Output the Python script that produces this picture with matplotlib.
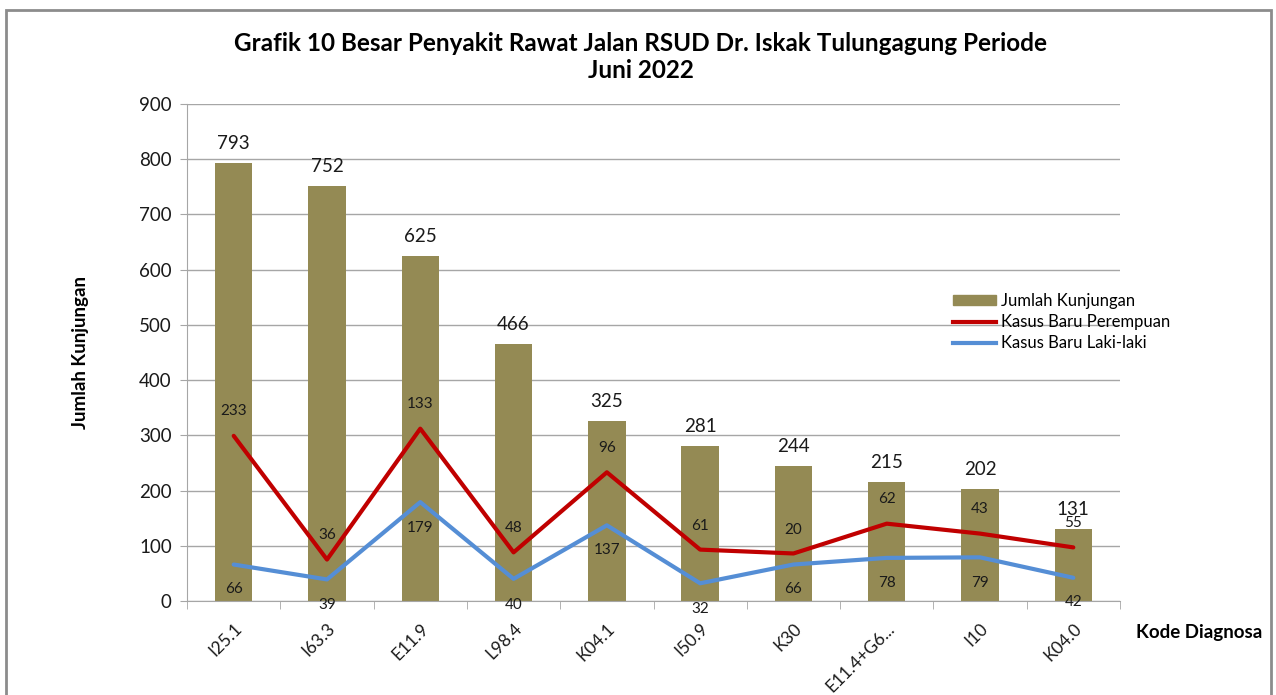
import matplotlib.pyplot as plt
import matplotlib.patches as mpatches
import numpy as np

plt.rcParams['font.family'] = ['Lato', 'DejaVu Sans']

codes = ["I25.1", "I63.3", "E11.9", "L98.4", "K04.1", "I50.9", "K30", "E11.4+G6...", "I10", "K04.0"]
kunjungan = [793, 752, 625, 466, 325, 281, 244, 215, 202, 131]
laki = [66, 39, 179, 40, 137, 32, 66, 78, 79, 42]
perempuan = [233, 36, 133, 48, 96, 61, 20, 62, 43, 55]
# label heights as placed in the original (value units)
perempuan_label_y = [344, 120, 356, 132, 277, 136, 129, 184, 167, 141]
laki_label_y = [21, -7, 133, -7, 93, -14, 21, 33, 33, -2]

bar_c = "#948A54"
red = "#C00000"
blue = "#558ED5"
grid_c = "#A6A6A6"

fig = plt.figure(figsize=(12.76, 6.95), dpi=100)
ax = fig.add_axes([0.1466, 0.1353, 0.7311, 0.7151])

x = np.arange(len(codes))
ax.bar(x, kunjungan, width=0.4, color=bar_c, zorder=2)
# stacked line: perempuan on top of laki-laki
stacked = np.array(laki) + np.array(perempuan)
ax.plot(x, laki, color=blue, lw=3, zorder=3, solid_capstyle='round')
ax.plot(x, stacked, color=red, lw=3, zorder=3, solid_capstyle='round')

for i, v in enumerate(kunjungan):
    ax.annotate(str(v), (i, v), xytext=(0, 8), textcoords="offset points",
                ha="center", va="bottom", fontsize=13.5, color="#1a1a1a")
for i, v in enumerate(perempuan):
    ax.text(i, perempuan_label_y[i], str(v), ha="center", va="center", fontsize=11, color="#1a1a1a", zorder=4)
for i, v in enumerate(laki):
    ax.text(i, laki_label_y[i], str(v), ha="center", va="center", fontsize=11, color="#1a1a1a", zorder=4)

ax.set_xlim(-0.5, len(codes) - 0.5)
ax.set_ylim(0, 900)
ax.set_yticks(np.arange(0, 901, 100))
ax.yaxis.grid(True, color=grid_c, lw=1, zorder=0)
ax.set_axisbelow(True)

ax.set_xticks(x)
ax.set_xticklabels(codes, rotation=45, ha="right", rotation_mode="anchor", fontsize=12.5, color="#1a1a1a")
ax.set_xticks(np.arange(-0.5, len(codes)), minor=True)
ax.tick_params(axis="x", which="major", length=0, pad=14)
ax.tick_params(axis="x", which="minor", length=6, color=grid_c, direction="out")
ax.tick_params(axis="y", length=5, color=grid_c, labelsize=13.5, labelcolor="#1a1a1a", pad=6)

for s in ["top", "right"]:
    ax.spines[s].set_visible(False)
for s in ["left", "bottom"]:
    ax.spines[s].set_color(grid_c)

ax.set_ylabel("Jumlah Kunjungan", fontsize=13.5, fontweight="bold", labelpad=36)
fig.text(0.989, 0.09, "Kode Diagnosa", ha="right", va="center", fontsize=13.5, fontweight="bold")

fig.text(0.502, 0.918, "Grafik 10 Besar Penyakit Rawat Jalan RSUD Dr. Iskak Tulungagung Periode\nJuni 2022",
         ha="center", va="center", fontsize=17.5, fontweight="bold", linespacing=1.2)

handles = [mpatches.Patch(color=bar_c, label="Jumlah Kunjungan"),
           plt.Line2D([], [], color=red, lw=3, label="Kasus Baru Perempuan"),
           plt.Line2D([], [], color=blue, lw=3, label="Kasus Baru Laki-laki")]
fig.legend(handles=handles, loc="upper left", bbox_to_anchor=(0.735, 0.6), frameon=False,
           fontsize=12, handlelength=2.6, handleheight=0.55, labelspacing=0.3, handletextpad=0.3)

# outer chart frame
fig.patches.append(mpatches.Rectangle((6 / 1276, -0.05), 1265 / 1276, 1.05 - 10 / 695,
                                      transform=fig.transFigure, fill=False, edgecolor="#8c8c8c", lw=2))

fig.savefig("out.png", dpi=100)
